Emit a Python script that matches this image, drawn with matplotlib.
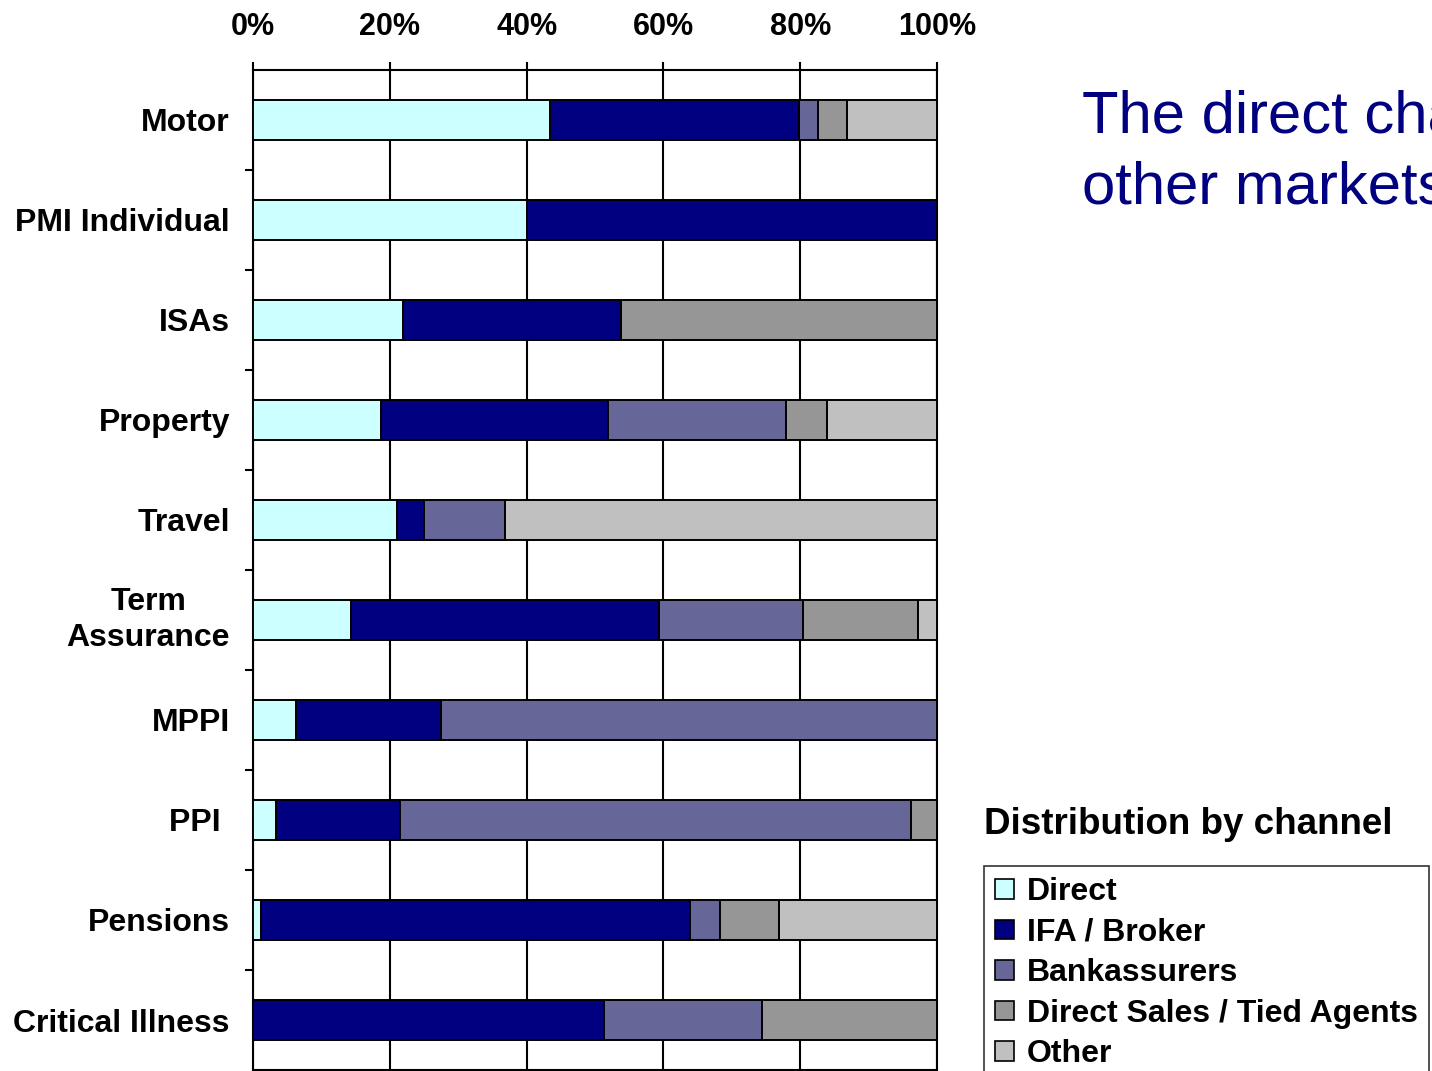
import matplotlib
matplotlib.use("Agg")
import matplotlib.pyplot as plt
import matplotlib.transforms as mtransforms
import numpy as np

plt.rcParams['font.family'] = ['Liberation Sans', 'DejaVu Sans']

# Share of sales by distribution channel (%), per product line
categories = ["Motor", "PMI Individual", "ISAs", "Property", "Travel",
              "Term\nAssurance", "MPPI", "PPI ", "Pensions", "Critical Illness"]
channels = ["Direct", "IFA / Broker", "Bankassurers",
            "Direct Sales / Tied Agents", "Other"]

direct       = [43.4, 40.0, 21.9, 18.7, 21.1, 14.3,  6.3,  3.4,  1.2,  0.0]
ifa_broker   = [36.4, 60.0, 31.9, 33.2,  3.9, 45.1, 21.2, 18.1, 62.7, 51.3]
bankassurers = [ 2.8,  0.0,  0.0, 26.0, 11.8, 21.0, 72.5, 74.7,  4.4, 23.1]
direct_sales = [ 4.2,  0.0, 46.2,  6.0,  0.0, 16.8,  0.0,  3.8,  8.6, 25.6]
other        = [13.2,  0.0,  0.0, 16.1, 63.2,  2.8,  0.0,  0.0, 23.1,  0.0]

x_ticks = [0, 20, 40, 60, 80, 100]
x_tick_labels = ["0%", "20%", "40%", "60%", "80%", "100%"]

colors = ["#CCFFFF", "#000080", "#666699", "#969696", "#C0C0C0"]

W, H = 1432, 1071
fig = plt.figure(figsize=(W / 100, H / 100), dpi=100)
ax = fig.add_axes([253 / W, 1 / H, (937 - 253) / W, 1000 / H])

series = [direct, ifa_broker, bankassurers, direct_sales, other]
y = np.arange(len(categories))
left = np.zeros(len(categories))
handles = []
for vals, col, name in zip(series, colors, channels):
    vals = np.array(vals)
    # empty segments get no outline so they leave no stray edge
    lws = [1.4 if v > 0 else 0.0 for v in vals]
    bc = ax.barh(y, vals, left=left, height=0.4, color=col,
                 edgecolor="black", linewidth=lws, label=name, zorder=3)
    handles.append(bc)
    left += vals

ax.set_xlim(0, 100)
ax.set_ylim(len(categories) - 0.5, -0.5)

# x axis on top
ax.xaxis.tick_top()
ax.set_xticks(x_ticks)
ax.set_xticklabels(x_tick_labels, fontsize=22, fontweight="bold")
ax.tick_params(axis="x", which="major", direction="out", length=6,
               width=1.5, pad=14, colors="black")
ax.grid(axis="x", color="black", linewidth=1.5, zorder=0)
ax.set_axisbelow(True)

# category labels right-aligned left of the axis, tick marks on band boundaries
ax.set_yticks([])
ax.set_yticks(np.arange(0.5, len(categories) - 0.5, 1.0), minor=True)
ax.tick_params(axis="y", which="minor", direction="out", length=6, width=1.5)
label_tr = (mtransforms.blended_transform_factory(ax.transAxes, ax.transData)
            + mtransforms.ScaledTranslation(-23 / 100, 0, fig.dpi_scale_trans))
for yi, name in zip(y, categories):
    multi = "\n" in name
    ax.text(0, yi, name, transform=label_tr, ha="right",
            va="center" if multi else "center_baseline",
            multialignment="center", linespacing=1.3,
            fontsize=23, fontweight="bold", clip_on=False)

for sp in ax.spines.values():
    sp.set_linewidth(1.5)
    sp.set_color("black")

# headline text
fig.text(1082 / W, 1 - 133 / H, "The direct channel lags behind",
         fontsize=43, color="#000080", ha="left", va="baseline")
fig.text(1082 / W, 1 - 203 / H, "other markets",
         fontsize=43, color="#000080", ha="left", va="baseline")

# legend title and legend box
fig.text(984 / W, 1 - 834 / H, "Distribution by channel", fontsize=26.5,
         fontweight="bold", ha="left", va="baseline")
leg = fig.legend(handles=handles, labels=channels, loc="upper left",
                 bbox_to_anchor=(984 / W, 1 - 866 / H), borderaxespad=0,
                 prop={"size": 23, "weight": "bold"}, frameon=True,
                 fancybox=False, edgecolor="black", handlelength=0.58,
                 handleheight=0.58, handletextpad=0.42, labelspacing=0.33,
                 borderpad=0.35)
leg.get_frame().set_linewidth(1.2)
for h in leg.legend_handles:
    h.set_linewidth(1.2)

fig.savefig("out.png", dpi=100)
